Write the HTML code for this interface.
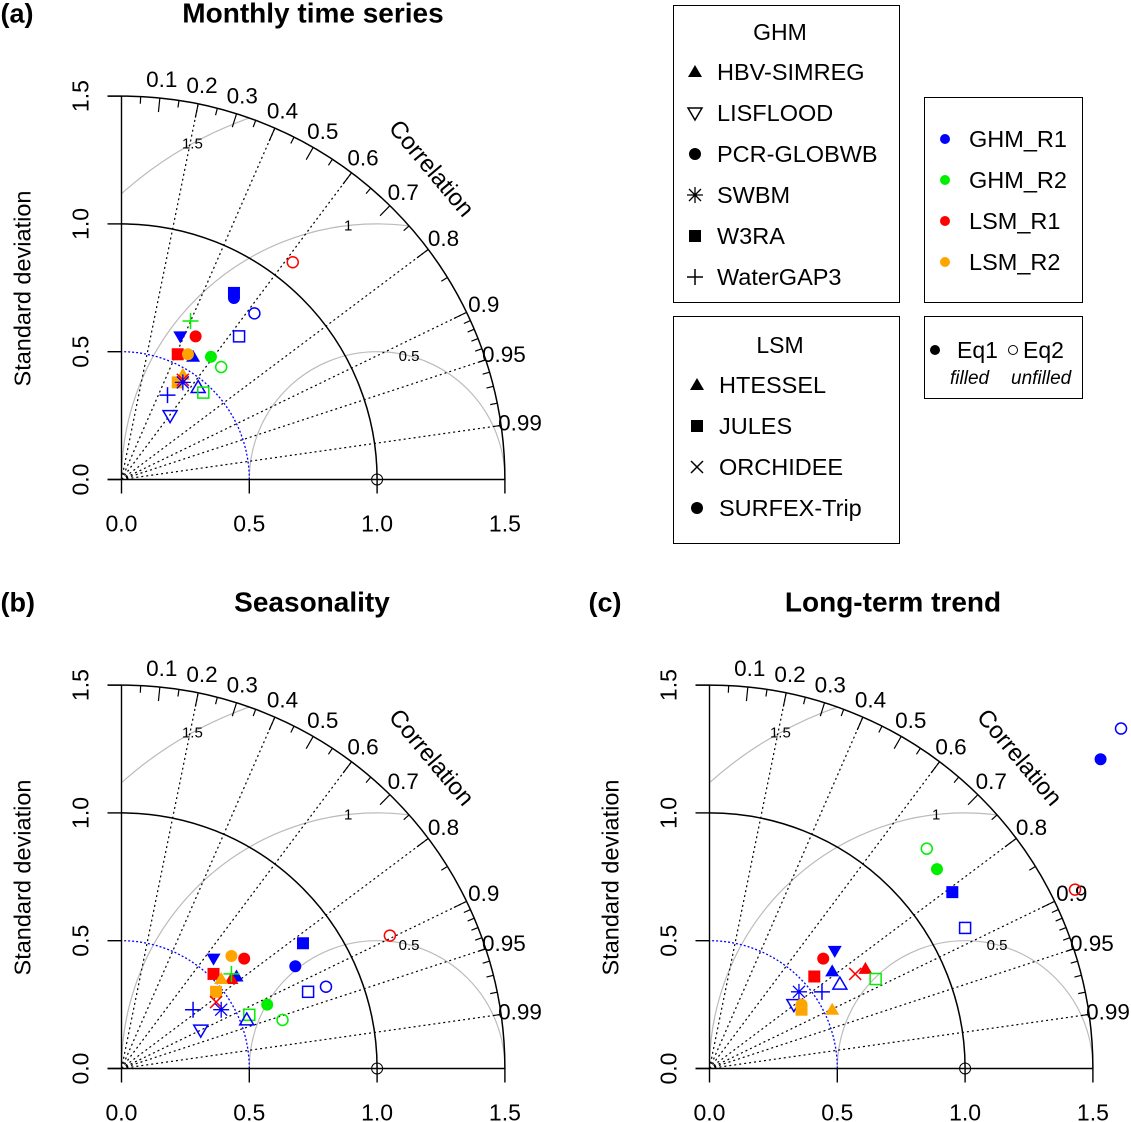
<!DOCTYPE html>
<html><head><meta charset="utf-8"><style>
html,body{margin:0;background:#fff;overflow:hidden;width:1131px;height:1122px}
svg{display:block;font-family:"Liberation Sans",Arial,sans-serif}
</style></head><body>
<svg id="chart" width="1131" height="1122" viewBox="0 0 1131 1122">
<g font-size="23">
<rect x="673.5" y="5.5" width="226" height="297" fill="none" stroke="#000"/>
<text x="780" y="40" text-anchor="middle">GHM</text>
<rect x="673.5" y="316.5" width="226" height="227" fill="none" stroke="#000"/>
<text x="780" y="353" text-anchor="middle">LSM</text>
<rect x="924.5" y="97.5" width="158" height="205" fill="none" stroke="#000"/>
<rect x="924.5" y="316.5" width="158" height="82" fill="none" stroke="#000"/>
<circle cx="935" cy="350" r="5" fill="#000"/>
<text x="957" y="358">Eq1</text>
<circle cx="1013" cy="350" r="4.5" fill="none" stroke="#000"/>
<text x="1023" y="358">Eq2</text>
<text x="950" y="384" font-size="19" font-style="italic">filled</text>
<text x="1011" y="384" font-size="19" font-style="italic">unfilled</text>
</g>
<g id="legend-dyn"></g>
<g id="panels"></g>
</svg>
<script>
const NS="http://www.w3.org/2000/svg";
const svg=document.getElementById('chart');
const COL={b:'#0000ff',g:'#00ee00',r:'#ff0000',o:'#ffa500'};
// ---- data (standard deviation components: x = sd*cor, y = sd*sin) ----
const aShape=['sq','circ','circ-o','circ-o','plus','dtri','circ','sq-o','tri','sq','circ','circ','circ-o','tri','sq','x','ast','tri-o','sq-o','plus','dtri-o'];
const aColor=['b','b','r','b','g','b','r','b','b','r','o','g','g','o','o','r','b','b','g','b','b'];
const aX=[0.44,0.44,0.67,0.52,0.27,0.23,0.29,0.46,0.28,0.22,0.26,0.35,0.39,0.24,0.22,0.24,0.24,0.30,0.32,0.18,0.19];
const aY=[0.73,0.71,0.85,0.65,0.62,0.56,0.56,0.56,0.48,0.49,0.49,0.48,0.44,0.41,0.38,0.39,0.38,0.36,0.34,0.33,0.25];
const bShape=['sq','dtri','circ','circ','circ','sq','tri','tri','tri','plus','sq','sq-o','circ-o','x','ast','circ','plus','sq-o','tri-o','circ-o','dtri-o','circ-o'];
const bColor=['b','b','o','r','b','r','b','r','o','g','o','b','b','r','b','g','b','g','b','g','b','r'];
const bX=[0.71,0.36,0.43,0.48,0.68,0.36,0.45,0.43,0.39,0.43,0.37,0.73,0.80,0.37,0.39,0.57,0.28,0.50,0.49,0.63,0.31,1.05];
const bY=[0.49,0.43,0.44,0.43,0.40,0.37,0.36,0.35,0.35,0.37,0.30,0.30,0.32,0.26,0.23,0.25,0.23,0.21,0.19,0.19,0.15,0.52];
const cShape=['dtri','circ','tri','sq','x','tri','sq-o','tri-o','plus','ast','dtri-o','sq','circ','tri','circ','circ-o','circ-o','circ','sq','sq-o','circ-o'];
const cColor=['b','r','b','r','r','r','g','b','b','b','b','o','o','o','b','b','g','g','b','b','r'];
const cX=[0.49,0.445,0.48,0.41,0.57,0.61,0.65,0.51,0.44,0.35,0.33,0.36,0.36,0.48,1.53,1.61,0.85,0.89,0.95,1.00,1.43];
const cY=[0.46,0.43,0.38,0.36,0.37,0.39,0.35,0.33,0.30,0.30,0.25,0.23,0.25,0.23,1.21,1.33,0.86,0.78,0.69,0.55,0.70];
const corLabels=[0.1,0.2,0.3,0.4,0.5,0.6,0.7,0.8,0.9,0.95,0.99];
const corLines=[0.2,0.4,0.6,0.8,0.9,0.95,0.99];
const sdTicks=[0,0.5,1,1.5];
const rmsLevels=[0.5,1,1.5];
const ghmNames=['HBV-SIMREG','LISFLOOD','PCR-GLOBWB','SWBM','W3RA','WaterGAP3'];
const ghmShapes=['tri','dtri-o','circ','ast','sq','plus'];
const lsmNames=['HTESSEL','JULES','ORCHIDEE','SURFEX-Trip'];
const lsmShapes=['tri','sq','x','circ'];
const grpNames=['GHM_R1','GHM_R2','LSM_R1','LSM_R2'];
const grpColors=['b','g','r','o'];

function el(tag,attrs,parent){const e=document.createElementNS(NS,tag);for(const k in attrs)e.setAttribute(k,attrs[k]);(parent||svg).appendChild(e);return e;}
function marker(g,shape,cx,cy,c){
  let e;const fill=c, sw=1.5;
  if(shape==='circ') e=el('circle',{cx,cy,r:6,fill},g);
  else if(shape==='circ-o') e=el('circle',{cx,cy,r:5.5,fill:'none',stroke:c,'stroke-width':sw},g);
  else if(shape==='sq') e=el('rect',{x:cx-6,y:cy-6,width:12,height:12,fill},g);
  else if(shape==='sq-o') e=el('rect',{x:cx-5.5,y:cy-5.5,width:11,height:11,fill:'none',stroke:c,'stroke-width':sw},g);
  else if(shape==='tri') e=el('polygon',{points:`${cx},${cy-7} ${cx+7},${cy+5} ${cx-7},${cy+5}`,fill},g);
  else if(shape==='tri-o') e=el('polygon',{points:`${cx},${cy-7} ${cx+7},${cy+5} ${cx-7},${cy+5}`,fill:'none',stroke:c,'stroke-width':sw},g);
  else if(shape==='dtri') e=el('polygon',{points:`${cx},${cy+7} ${cx+7},${cy-5} ${cx-7},${cy-5}`,fill},g);
  else if(shape==='dtri-o') e=el('polygon',{points:`${cx},${cy+7} ${cx+7},${cy-5} ${cx-7},${cy-5}`,fill:'none',stroke:c,'stroke-width':sw},g);
  else if(shape==='plus') e=el('path',{d:`M${cx-8},${cy}H${cx+8}M${cx},${cy-8}V${cy+8}`,stroke:c,'stroke-width':sw,fill:'none'},g);
  else if(shape==='x') e=el('path',{d:`M${cx-6},${cy-6}L${cx+6},${cy+6}M${cx-6},${cy+6}L${cx+6},${cy-6}`,stroke:c,'stroke-width':sw,fill:'none'},g);
  else if(shape==='ast') e=el('path',{d:`M${cx-8},${cy}H${cx+8}M${cx},${cy-8}V${cy+8}M${cx-6},${cy-6}L${cx+6},${cy+6}M${cx-6},${cy+6}L${cx+6},${cy-6}`,stroke:c,'stroke-width':1.3,fill:'none'},g);
  return e;
}
const lg=document.getElementById('legend-dyn');
ghmNames.forEach((n,i)=>{const y=72+i*41;
  const m=marker(lg,ghmShapes[i],695,y,'#000');
  
  
  const t=el('text',{x:717,y:y+8,'font-size':23.5},lg);t.textContent=n;
  
  });
lsmNames.forEach((n,i)=>{const y=385+i*41;
  const m=marker(lg,lsmShapes[i],697,y,'#000');
  
  
  const t=el('text',{x:719,y:y+8,'font-size':23.5},lg);t.textContent=n;
  
  });
grpNames.forEach((n,i)=>{const y=139+i*41;
  const m=el('circle',{cx:945,cy:y,r:5,fill:COL[grpColors[i]]},lg);
  
  
  const t=el('text',{x:969,y:y+8,'font-size':23.5},lg);t.textContent=n;
  
  });

function panel(ox,oy,tag,title,titleX,xs,ys,shapes,colors){
  const S=255.6;
  const g=el('g',{},document.getElementById('panels'));
  
  
  const P=(x,y)=>[ox+x*S,oy-y*S];
  const t1=el('text',{x:ox-121,y:oy-457,'font-size':27,'font-weight':'bold'},g);t1.textContent=tag;
  
  
  const t2=el('text',{x:titleX,y:oy-457,'font-size':28,'font-weight':'bold','text-anchor':'middle'},g);t2.textContent=title;
  
  
  const cid='clip'+tag.replace(/[()]/g,'');
  const cp=el('clipPath',{id:cid},g);
  el('path',{d:`M${ox},${oy}L${ox+1.5*S},${oy}A${1.5*S},${1.5*S} 0 0 0 ${ox},${oy-1.5*S}Z`},cp);
  rmsLevels.forEach(r=>{
    const a=el('circle',{cx:ox+S,cy:oy,r:r*S,fill:'none',stroke:'#bbb','stroke-width':1.2,'clip-path':`url(#${cid})`},g);
    
    
  });
  const rl=[[0.5,75.5],[1,96.5],[1.5,118.8]];
  rl.forEach(([r,ang])=>{const a=ang*Math.PI/180;const [px,py]=P(1+r*Math.cos(a),r*Math.sin(a));
    const t=el('text',{x:px,y:py+5,'font-size':15,'text-anchor':'middle'},g);t.textContent=String(r);
    
    });
  corLines.forEach(c=>{const s=Math.sqrt(1-c*c);const [px,py]=P(1.5*c,1.5*s);
    const l=el('line',{x1:ox,y1:oy,x2:px,y2:py,stroke:'#000','stroke-width':1.2,'stroke-dasharray':'2,3'},g);
    
    });
  corLabels.forEach(c=>{const s=Math.sqrt(1-c*c);
    const [lx,ly]=P(1.575*c,1.575*s);
    const t=el('text',{x:lx,y:ly+8,'font-size':22.5,'text-anchor':'middle'},g);t.textContent=String(c);
    
    });
  const tk=[];for(let i=1;i<=19;i++)tk.push(i*0.05);for(let i=91;i<=99;i++)tk.push(i/100);
  tk.forEach(c=>{const s=Math.sqrt(1-c*c);const long=Math.abs(c*10-Math.round(c*10))<1e-6;const L=long?0.055:0.028;
    const [a,b]=P(1.5*c,1.5*s);const [d,e]=P((1.5-L)*c,(1.5-L)*s);
    el('line',{x1:a,y1:b,x2:d,y2:e,stroke:'#000','stroke-width':1.2},g);});
  const arc=(r,attrs,name)=>{const a=el('path',Object.assign({d:`M${ox+r*S},${oy}A${r*S},${r*S} 0 0 0 ${ox},${oy-r*S}`,fill:'none'},attrs),g);
    
    };
  arc(1.5,{stroke:'#000','stroke-width':1.5},'outer-arc');
  arc(1.0,{stroke:'#000','stroke-width':1.5},'reference-sd-arc');
  arc(0.5,{stroke:'#0000ff','stroke-width':1.3,'stroke-dasharray':'2,2'},'obs-sd-arc');
  el('line',{x1:ox-14,y1:oy,x2:ox+1.5*S,y2:oy,stroke:'#000','stroke-width':1.4},g);
  el('line',{x1:ox,y1:oy,x2:ox,y2:oy-1.5*S,stroke:'#000','stroke-width':1.4},g);
  el('line',{x1:ox-14,y1:oy-1.5*S,x2:ox,y2:oy-1.5*S,stroke:'#000','stroke-width':1.4},g);
  sdTicks.forEach(v=>{const [px]=P(v,0);
    el('line',{x1:px,y1:oy,x2:px,y2:oy+14,stroke:'#000','stroke-width':1.4},g);
    const t=el('text',{x:px,y:oy+52,'font-size':23,'text-anchor':'middle'},g);t.textContent=v.toFixed(1);
    
    
    const [,py]=P(0,v);
    el('line',{x1:ox-14,y1:py,x2:ox,y2:py,stroke:'#000','stroke-width':1.4},g);
    const tx=ox-33;
    const t2=el('text',{x:tx,y:py,'font-size':23,'text-anchor':'middle',transform:`rotate(-90 ${tx} ${py})`},g);t2.textContent=v.toFixed(1);
    
    });
  const yx=ox-91;
  const yt=el('text',{x:yx,y:oy-191,'font-size':23.5,'text-anchor':'middle',transform:`rotate(-90 ${yx} ${oy-191})`},g);yt.textContent='Standard deviation';
  
  
  const ct=el('text',{x:ox+304,y:oy-306,'font-size':24,'text-anchor':'middle',transform:`rotate(50 ${ox+304} ${oy-306})`},g);ct.textContent='Correlation';
  
  
  const ref=el('circle',{cx:ox+S,cy:oy,r:5.5,fill:'none',stroke:'#000','stroke-width':1},g);
  
  
  xs.forEach((x,i)=>{const [px,py]=P(x,ys[i]);
    const m=marker(g,shapes[i],px,py,COL[colors[i]]);
    
    });
}
panel(121.5,479.5,'(a)','Monthly time series',313,aX,aY,aShape,aColor);
panel(121.5,1068.5,'(b)','Seasonality',312,bX,bY,bShape,bColor);
panel(709.5,1068.5,'(c)','Long-term trend',893,cX,cY,cShape,cColor);
</script>
</body></html>
